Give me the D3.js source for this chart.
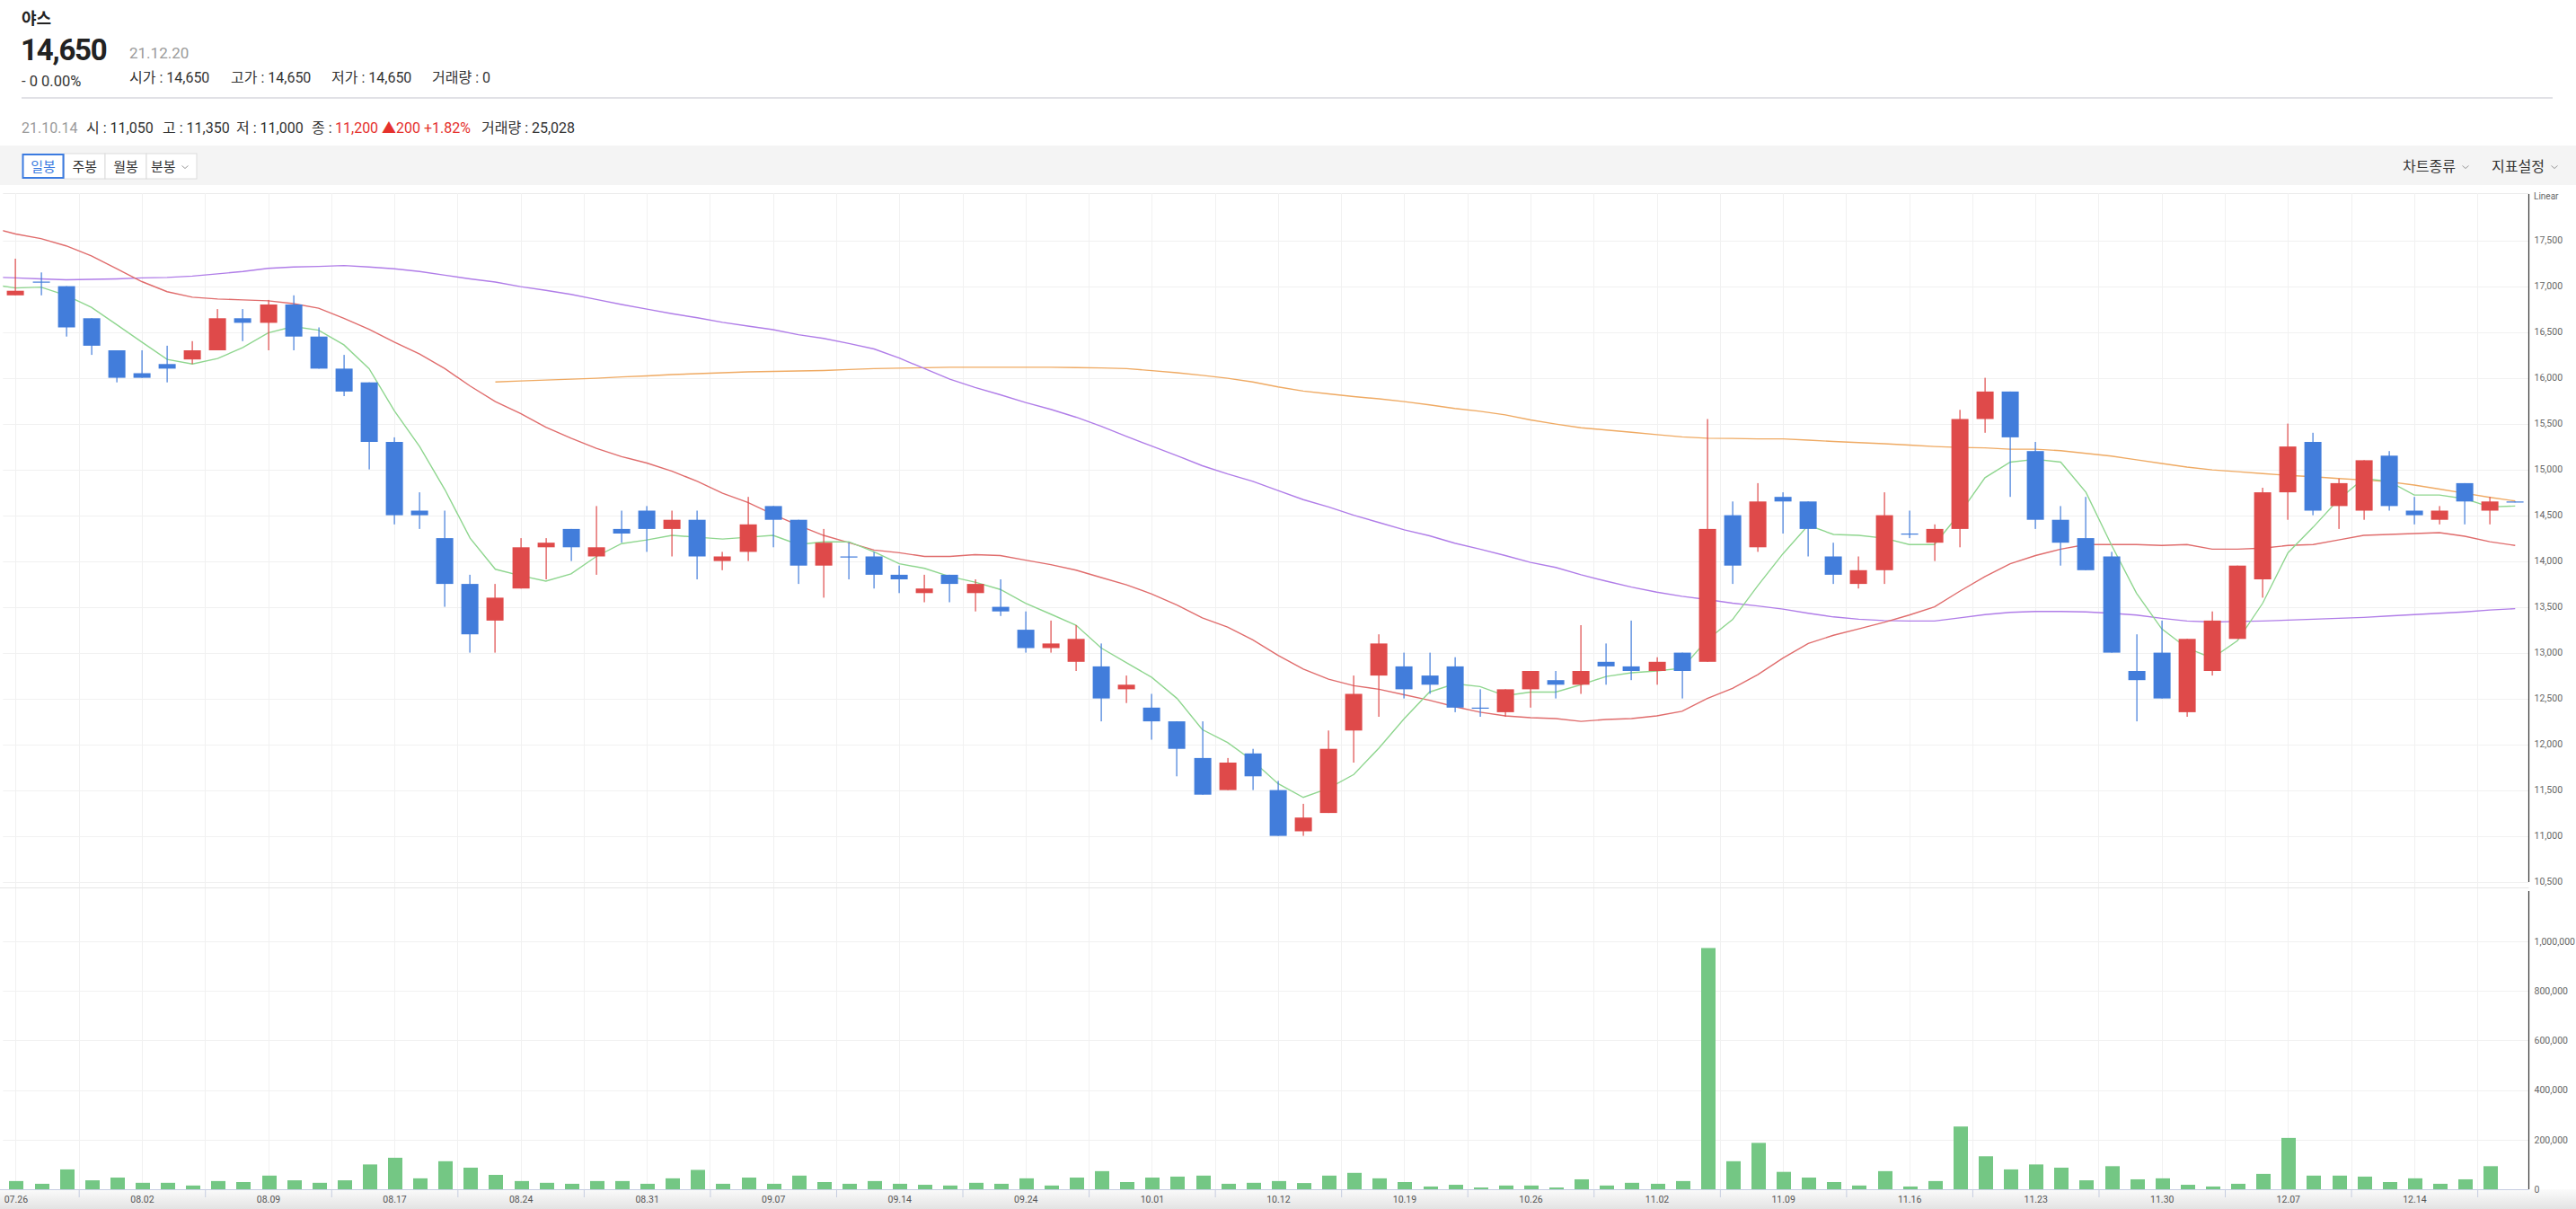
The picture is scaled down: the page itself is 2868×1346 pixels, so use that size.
<!DOCTYPE html>
<html><head><meta charset="utf-8">
<script src="https://cdn.jsdelivr.net/npm/d3@7"></script>
<style>
body{margin:0;background:#fff;overflow:hidden;}
svg{display:block;}
</style></head><body>
<svg id="c" width="2868" height="1346"></svg>
<script>
// ---------------- DATA ----------------
const stockName = '야스';
const lastPrice = '14,650';
const lastDate = '21.12.20';
const lastChange = '- 0 0.00%';
const lastFields = [['시가', '14,650'], ['고가', '14,650'], ['저가', '14,650'], ['거래량', '0']];
const infoDate = '21.10.14';
const infoFields = [['시', '11,050'], ['고', '11,350'], ['저', '11,000']];
const infoCloseLabel = '종';
const infoCloseText = '11,200 ▲200 +1.82%';
const infoVolume = ['거래량', '25,028'];
const periodTabs = ['일봉', '주봉', '월봉', '분봉'];
const rightMenus = ['차트종류', '지표설정'];

const dates = [
 '07.26','07.27','07.28','07.29','07.30','08.02','08.03','08.04','08.05','08.06',
 '08.09','08.10','08.11','08.12','08.13','08.17','08.18','08.19','08.20','08.23',
 '08.24','08.25','08.26','08.27','08.30','08.31','09.01','09.02','09.03','09.06',
 '09.07','09.08','09.09','09.10','09.13','09.14','09.15','09.16','09.17','09.23',
 '09.24','09.27','09.28','09.29','09.30','10.01','10.05','10.06','10.07','10.08',
 '10.12','10.13','10.14','10.15','10.18','10.19','10.20','10.21','10.22','10.25',
 '10.26','10.27','10.28','10.29','11.01','11.02','11.03','11.04','11.05','11.08',
 '11.09','11.10','11.11','11.12','11.15','11.16','11.17','11.18','11.19','11.22',
 '11.23','11.24','11.25','11.26','11.29','11.30','12.01','12.02','12.03','12.06',
 '12.07','12.08','12.09','12.10','12.13','12.14','12.15','12.16','12.17','12.20'];

const open = [
 16900,17050,17000,16650,16300,16050,16150,16200,16300,16650,
 16600,16800,16450,16100,15950,15300,14550,14250,13750,13350,
 13700,14150,14350,14050,14350,14550,14350,14450,14000,14100,
 14600,14450,13950,14050,14050,13850,13650,13850,13650,13500,
 13250,13050,12900,12850,12600,12400,12250,11850,11500,11900,
 11500,11050,11250,12150,12750,12850,12750,12850,12400,12350,
 12600,12700,12650,12900,12850,12800,13000,12900,14500,14150,
 14700,14650,14050,13750,13900,14300,14200,14350,15550,15850,
 15200,14450,14250,14050,12800,13000,12350,12800,13150,13800,
 14750,15300,14600,14550,15150,14550,14450,14850,14550,14650];
const high = [
 17300,17150,17000,16650,16300,16300,16350,16400,16750,16750,
 16850,16900,16550,16250,15950,15350,14750,14550,13850,13750,
 14250,14250,14350,14600,14550,14600,14550,14550,14100,14700,
 14600,14450,14350,14200,14100,13950,13850,13850,13800,13800,
 13450,13350,13300,13100,12750,12550,12250,12250,11850,11950,
 11600,11350,12150,12750,13200,13000,13000,12950,12600,12600,
 12800,12800,13300,13100,13350,12950,13000,15550,14650,14850,
 14750,14650,14200,14050,14750,14550,14400,15650,16000,15850,
 15300,14600,14700,14100,13200,13350,13150,13450,13950,14800,
 15500,15400,14900,15100,15200,14700,14600,14850,14700,14650];
const low = [
 16900,16900,16450,16250,15950,16000,15950,16150,16300,16400,
 16300,16300,16100,15800,15000,14400,14350,13500,13000,13000,
 13700,13800,14000,13850,14200,14100,14050,13800,13900,14000,
 14150,13750,13600,13800,13700,13650,13550,13550,13450,13400,
 13000,13000,12800,12250,12450,12050,11650,11450,11500,11500,
 11000,11000,11250,11800,12300,12500,12550,12350,12300,12300,
 12400,12500,12550,12650,12700,12650,12500,12900,13750,14100,
 14300,14050,13750,13700,13750,14250,14000,14150,15400,14700,
 14350,13950,13900,13000,12250,12500,12300,12750,13150,13600,
 14450,14500,14350,14450,14550,14400,14400,14400,14400,14650];
const close = [
 16950,17050,16550,16350,16000,16000,16100,16300,16650,16600,
 16800,16450,16100,15850,15300,14500,14500,13750,13200,13600,
 14150,14200,14150,14150,14300,14350,14450,14050,14050,14400,
 14450,13950,14200,14050,13850,13800,13700,13750,13750,13450,
 13050,13100,13150,12500,12650,12250,11950,11450,11800,11650,
 11000,11200,11950,12550,13100,12600,12650,12400,12400,12600,
 12800,12650,12800,12850,12800,12900,12800,14350,13950,14650,
 14650,14350,13850,13900,14500,14300,14350,15550,15850,15350,
 14450,14200,13900,13000,12700,12500,13150,13350,13950,14750,
 15250,14550,14850,15100,14600,14500,14550,14650,14650,14650];
const volume = [
 33000,22000,80000,36000,47000,26000,26000,15000,33000,29000,
 55000,36000,26000,36000,100000,127000,44000,113000,87000,58000,
 33000,26000,22000,33000,33000,22000,44000,78000,22000,47000,
 22000,55000,29000,22000,33000,22000,18000,15000,26000,22000,
 44000,15000,47000,73000,29000,47000,51000,55000,22000,26000,
 33000,25028,55000,66000,44000,29000,11000,18000,7000,15000,
 15000,7000,40000,15000,26000,22000,33000,973000,113000,187000,
 70000,47000,29000,15000,73000,11000,33000,253000,133000,80000,
 100000,87000,36000,93000,40000,44000,18000,11000,22000,62000,
 207000,55000,55000,51000,29000,44000,22000,40000,93000,0];

// moving averages; first value = session before 07.26
const ma5 = [17020,
 16980,16990,16900,16770,16580,16390,16200,16150,16210,16330,
 16490,16560,16520,16360,16100,15640,15250,14780,14250,13910,
 13840,13780,13860,14050,14190,14230,14280,14260,14240,14260,
 14280,14180,14210,14210,14100,13970,13920,13830,13770,13690,
 13540,13420,13300,13050,12890,12730,12500,12160,12020,11820,
 11570,11420,11520,11670,11960,12280,12570,12660,12630,12530,
 12570,12570,12650,12740,12780,12800,12830,13140,13360,13730,
 14080,14390,14290,14280,14250,14180,14180,14520,14910,15080,
 15110,15080,14750,14180,13650,13260,13050,12940,13130,13540,
 14090,14370,14670,14900,14870,14720,14720,14680,14590,14600];
const ma20 = [17640,
 17570,17520,17440,17330,17190,17050,16940,16880,16860,16850,
 16840,16810,16760,16650,16530,16390,16260,16100,15910,15740,
 15610,15460,15340,15230,15140,15070,14980,14870,14740,14640,
 14510,14390,14280,14200,14120,14090,14050,14050,14070,14060,
 14010,13960,13900,13820,13740,13640,13520,13380,13280,13140,
 12970,12820,12710,12640,12600,12540,12480,12410,12350,12310,
 12290,12280,12250,12270,12280,12310,12360,12500,12610,12760,
 12940,13100,13190,13260,13330,13410,13500,13670,13830,13970,
 14060,14130,14180,14180,14180,14170,14180,14130,14130,14140,
 14170,14180,14230,14280,14290,14300,14310,14270,14210,14170];
const ma60 = [17100,
 17090,17080,17070,17075,17080,17090,17095,17110,17135,17160,
 17195,17210,17215,17225,17210,17190,17160,17120,17080,17045,
 16995,16955,16910,16855,16800,16750,16700,16655,16605,16565,
 16525,16470,16430,16375,16315,16215,16100,15985,15895,15815,
 15730,15655,15570,15470,15360,15255,15150,15040,14950,14870,
 14770,14670,14590,14500,14420,14340,14275,14195,14130,14060,
 13985,13930,13850,13780,13715,13660,13615,13580,13540,13510,
 13475,13430,13390,13365,13350,13345,13345,13380,13415,13440,
 13450,13450,13445,13430,13410,13375,13345,13335,13340,13345,
 13355,13365,13375,13385,13400,13415,13430,13445,13465,13480];
const ma120 = [null,
 null,null,null,null,null,null,null,null,null,null,
 null,null,null,null,null,null,null,null,null,15955,
 15965,15975,15985,15995,16010,16020,16035,16045,16055,16065,
 16070,16075,16080,16090,16100,16105,16110,16115,16115,16115,
 16115,16115,16112,16108,16100,16078,16055,16027,15995,15955,
 15900,15855,15825,15795,15770,15740,15705,15665,15635,15595,
 15540,15495,15455,15430,15405,15380,15355,15340,15338,15333,
 15333,15320,15305,15293,15280,15265,15250,15240,15235,15220,
 15220,15205,15175,15145,15105,15065,15025,14995,14975,14955,
 14935,14920,14900,14885,14865,14830,14785,14740,14695,14655];

const priceTicks = [11000,11500,12000,12500,13000,13500,14000,14500,15000,15500,16000,16500,17000,17500];
const priceTickLabels = priceTicks.concat([10500]);
const volumeTicks = [0,200000,400000,600000,800000,1000000];

// ---------------- DRAWING ----------------
const FONT = "Roboto, 'Noto Sans CJK KR', sans-serif";
const KFONT = "'Noto Sans CJK KR', Roboto, sans-serif";
const RED = '#df4a4a', BLUE = '#427ddb', VOLC = '#74c784', GRID = '#f1f1f1';
const svg = d3.select('#c').style('font-family', FONT);
const n = dates.length;

const plotL = 3.35, plotR = 2814.35, axisX = 2815.5;
const priceTop = 215, priceBot = 986, volTop = 992, volBot = 1324;

const xi = d3.scaleLinear().domain([-0.5, n - 0.5]).range([plotL, plotR]);
const xb = d3.scaleBand().domain(d3.range(n)).range([plotL, plotR]);
const y = d3.scaleLinear().domain([10500, 17500]).range([981.6, 267.6]);
const yv = d3.scaleLinear().domain([0, 1000000]).range([volBot, 1048]);

const defs = svg.append('defs');
defs.append('clipPath').attr('id', 'clipP').append('rect')
  .attr('x', plotL).attr('y', priceTop).attr('width', axisX - plotL).attr('height', priceBot - priceTop);
const grad = defs.append('linearGradient').attr('id', 'gb').attr('x1', 0).attr('y1', 0).attr('x2', 0).attr('y2', 1);
grad.append('stop').attr('offset', '0%').attr('stop-color', '#fbfbfb');
grad.append('stop').attr('offset', '100%').attr('stop-color', '#e3e3e3');

// ---- header ----
svg.append('text').attr('x', 24).attr('y', 27).attr('font-family', KFONT).attr('font-size', 18)
  .attr('font-weight', 700).attr('fill', '#222').text(stockName);
svg.append('text').attr('x', 23).attr('y', 67).attr('font-size', 33).attr('font-weight', 700)
  .attr('letter-spacing', -1.2).attr('fill', '#222').text(lastPrice);
svg.append('text').attr('x', 144).attr('y', 65).attr('font-size', 17).attr('fill', '#9a9a9a').text(lastDate);
svg.append('text').attr('x', 24).attr('y', 96).attr('font-size', 16.5).attr('fill', '#333').text(lastChange);
const lfX = [144, 257, 369, 481];
lastFields.forEach((f, k) => {
  svg.append('text').attr('x', lfX[k]).attr('y', 92).attr('font-size', 16).attr('fill', '#333')
    .text(f[0] + ' : ' + f[1]);
});
svg.append('rect').attr('x', 24).attr('y', 108).attr('width', 2818).attr('height', 2).attr('fill', '#e1e1e6');

// ---- info line ----
const infoY = 148;
svg.append('text').attr('x', 24).attr('y', infoY).attr('font-size', 16).attr('fill', '#9a9a9a').text(infoDate);
const ifX = [96, 181, 263];
infoFields.forEach((f, k) => {
  svg.append('text').attr('x', ifX[k]).attr('y', infoY).attr('font-size', 16).attr('fill', '#333')
    .text(f[0] + ' : ' + f[1]);
});
svg.append('text').attr('x', 347).attr('y', infoY).attr('font-size', 16).attr('fill', '#333').text(infoCloseLabel + ' :');
svg.append('text').attr('x', 373).attr('y', infoY).attr('font-size', 16).attr('fill', '#e5312c').text(infoCloseText);
svg.append('text').attr('x', 536).attr('y', infoY).attr('font-size', 16).attr('fill', '#333')
  .text(infoVolume[0] + ' : ' + infoVolume[1]);

// ---- toolbar ----
svg.append('rect').attr('x', 0).attr('y', 162).attr('width', 2868).attr('height', 44).attr('fill', '#f4f4f4');
const tabX = [24.5, 71.5, 117, 163, 219];
periodTabs.forEach((t, k) => {
  const sel = k === 0;
  svg.append('rect').attr('x', tabX[k]).attr('y', 171).attr('width', tabX[k + 1] - tabX[k]).attr('height', 28)
    .attr('fill', '#fff').attr('stroke', sel ? 'none' : '#dcdcdc').attr('stroke-width', 1);
  const tx = k === 3 ? tabX[k] + 5 : (tabX[k] + tabX[k + 1]) / 2;
  svg.append('text').attr('x', tx).attr('y', 191).attr('text-anchor', k === 3 ? 'start' : 'middle')
    .attr('font-family', KFONT).attr('font-size', 15).attr('fill', sel ? '#3b7be0' : '#333').text(t);
});
svg.append('rect').attr('x', 25.5).attr('y', 172).attr('width', 45).attr('height', 26)
  .attr('fill', 'none').attr('stroke', '#3b7be0').attr('stroke-width', 2);
function chevron(cx, cy) {
  svg.append('path').attr('d', `M${cx - 3.5},${cy - 1.5} L${cx},${cy + 1.5} L${cx + 3.5},${cy - 1.5}`)
    .attr('fill', 'none').attr('stroke', '#999').attr('stroke-width', 1);
}
chevron(206, 186);
const rmX = [2675, 2774];
rightMenus.forEach((t, k) => {
  svg.append('text').attr('x', rmX[k]).attr('y', 191).attr('font-family', KFONT).attr('font-size', 16)
    .attr('fill', '#333').text(t);
  chevron(rmX[k] + 70, 186);
});

// ---- grid ----
const grid = svg.append('g');
grid.append('line').attr('x1', plotL).attr('x2', axisX).attr('y1', priceTop + 0.5).attr('y2', priceTop + 0.5)
  .attr('stroke', '#ececec');
grid.selectAll('line.hp').data(priceTicks.concat([10500])).join('line').attr('class', 'hp')
  .attr('x1', plotL).attr('x2', axisX).attr('y1', d => Math.round(y(d)) + 0.5).attr('y2', d => Math.round(y(d)) + 0.5)
  .attr('stroke', GRID);
grid.selectAll('line.hv').data(volumeTicks.slice(1)).join('line').attr('class', 'hv')
  .attr('x1', plotL).attr('x2', axisX).attr('y1', d => Math.round(yv(d)) + 0.5).attr('y2', d => Math.round(yv(d)) + 0.5)
  .attr('stroke', GRID);
const vgrid = d3.range(0, n, 2.5);
grid.selectAll('line.vg').data(vgrid).join('line').attr('class', 'vg')
  .attr('x1', d => Math.round(xi(d)) + 0.5).attr('x2', d => Math.round(xi(d)) + 0.5)
  .attr('y1', priceTop).attr('y2', volBot).attr('stroke', GRID);
grid.append('line').attr('x1', 0).attr('x2', axisX).attr('y1', 988.5).attr('y2', 988.5).attr('stroke', '#e6e6e6');

// ---- bottom strip ----
svg.append('rect').attr('x', 0).attr('y', volBot).attr('width', 2868).attr('height', 1346 - volBot).attr('fill', 'url(#gb)');

// ---- volume bars ----
svg.append('g').selectAll('rect').data(d3.range(n)).join('rect')
  .attr('x', i => Math.round(xi(i)) - 7).attr('width', 16)
  .attr('y', i => yv(volume[i])).attr('height', i => volBot - yv(volume[i]))
  .attr('fill', VOLC);

// ---- moving averages ----
const maG = svg.append('g').attr('clip-path', 'url(#clipP)');
const maLine = d3.line().defined(d => d[1] != null).x(d => xi(d[0])).y(d => y(d[1]));
[[ma120, '#efaa63'], [ma60, '#b07de8'], [ma20, '#e06c6c'], [ma5, '#8fd68f']].forEach(([arr, col]) => {
  const pts = arr.map((v, k) => [k - 1, v]);
  maG.append('path').attr('d', maLine(pts)).attr('fill', 'none').attr('stroke', col).attr('stroke-width', 1.4);
});

// ---- candles ----
const cg = svg.append('g').attr('clip-path', 'url(#clipP)');
const cdata = d3.range(n).map(i => ({ i, o: open[i], h: high[i], l: low[i], c: close[i] }));
const col = d => d.c > d.o ? RED : BLUE;
cg.selectAll('rect.w').data(cdata).join('rect').attr('class', 'w')
  .attr('x', d => Math.round(xb(d.i) + xb.bandwidth() / 2) - 0.5).attr('width', 1.2)
  .attr('y', d => y(d.h)).attr('height', d => Math.max(1, y(d.l) - y(d.h))).attr('fill', col);
cg.selectAll('rect.b').data(cdata).join('rect').attr('class', 'b')
  .attr('x', d => Math.round(xb(d.i) + xb.bandwidth() / 2) - 9.4).attr('width', 19)
  .attr('y', d => y(Math.max(d.o, d.c)))
  .attr('height', d => Math.max(1.2, y(Math.min(d.o, d.c)) - y(Math.max(d.o, d.c))))
  .attr('fill', col);

// ---- y axes ----
const fmt = d3.format(',');
const pa = svg.append('g').attr('transform', `translate(${axisX},0)`)
  .call(d3.axisRight(y).tickValues(priceTickLabels).tickSize(0).tickPadding(6).tickFormat(fmt));
pa.select('.domain').remove();
pa.selectAll('text').attr('font-size', 10.5).attr('fill', '#666').attr('font-family', FONT);
const va = svg.append('g').attr('transform', `translate(${axisX},0)`)
  .call(d3.axisRight(yv).tickValues(volumeTicks).tickSize(0).tickPadding(6).tickFormat(fmt));
va.select('.domain').remove();
va.selectAll('text').attr('font-size', 10.5).attr('fill', '#666').attr('font-family', FONT);
svg.append('line').attr('x1', axisX).attr('x2', axisX).attr('y1', 216).attr('y2', 982).attr('stroke', '#333').attr('stroke-width', 1.2);
svg.append('line').attr('x1', axisX).attr('x2', axisX).attr('y1', 992).attr('y2', volBot).attr('stroke', '#333').attr('stroke-width', 1.2);
svg.append('text').attr('x', 2821).attr('y', 222).attr('font-size', 10).attr('fill', '#666').text('Linear');

// ---- x axis ----
const labelIdx = d3.range(0, n, 5);
const xa = svg.append('g').attr('transform', `translate(0,${volBot})`)
  .call(d3.axisBottom(xi).tickValues(labelIdx).tickSize(0).tickPadding(8).tickFormat(i => dates[i]));
xa.select('.domain').remove();
xa.selectAll('text').attr('font-size', 10.5).attr('fill', '#555').attr('font-family', FONT);
const xt = svg.append('g').attr('transform', `translate(0,${volBot})`)
  .call(d3.axisBottom(xi).tickValues(labelIdx.map(i => i + 2.5)).tickSize(9).tickFormat(''));
xt.select('.domain').remove();
xt.selectAll('line').attr('stroke', '#c6cde0');
svg.append('line').attr('x1', 0).attr('x2', axisX).attr('y1', volBot + 0.5).attr('y2', volBot + 0.5).attr('stroke', '#c6cde0');
</script>
</body></html>
